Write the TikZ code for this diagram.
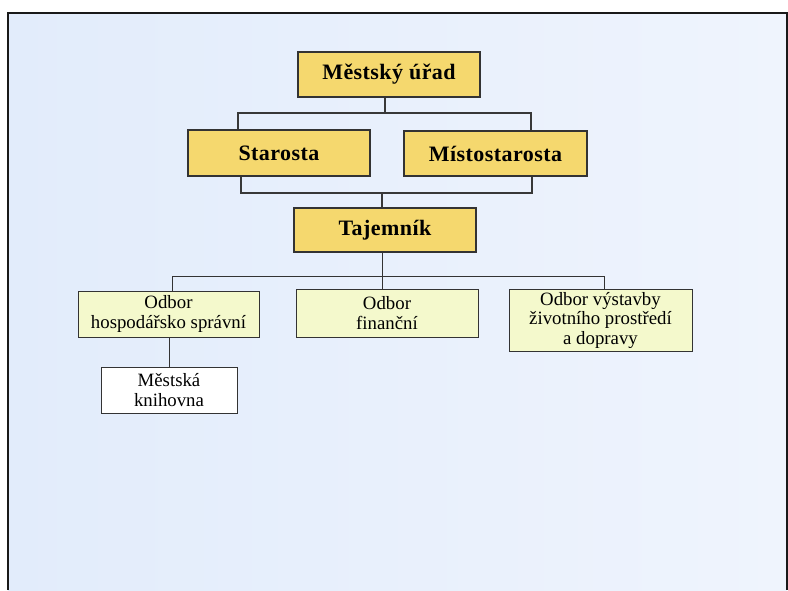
\documentclass[tikz,border=0pt]{standalone}
\usepackage{fontspec}
\setmainfont{Liberation Serif}
\begin{document}
\begin{tikzpicture}[x=1pt,y=-1pt,
  topbox/.style={draw=black!80,line width=1.1pt,fill=boxyellow,inner sep=0pt,align=center,font=\fontsize{22}{24}\selectfont\bfseries\addfontfeature{LetterSpace=2}},
  depbox/.style={draw=black!80,line width=1pt,fill=boxgreen,inner sep=0pt,align=center,font=\fontsize{18.8}{19.5}\selectfont},
  subbox/.style={depbox,fill=white},
  conn/.style={draw=black!78,line width=1.2pt},
  conn2/.style={draw=black!80,line width=1pt}]
\definecolor{boxyellow}{RGB}{245,216,110}
\definecolor{boxgreen}{RGB}{244,249,204}
\definecolor{bgleft}{RGB}{226,236,251}
\definecolor{bgright}{RGB}{239,244,253}
\useasboundingbox (0,0) rectangle (788,590);
\fill[white] (0,0) rectangle (788,590);
\shade[left color=bgleft,right color=bgright] (8,13) rectangle (787,590);
\draw[line width=2pt,black!90] (8,590) -- (8,13) -- (787,13) -- (787,590);

\node[topbox,minimum width=182pt,minimum height=45pt] (mu) at (389,74.5) {Městský úřad};
\node[topbox,minimum width=182pt,minimum height=46pt] (st) at (279,153) {Starosta};
\node[topbox,minimum width=183pt,minimum height=45pt] (ms) at (495.5,153.5) {Místostarosta};
\node[topbox,minimum width=182pt,minimum height=44pt] (tj) at (385,230) {Tajemník};

\node[depbox,minimum width=181pt,minimum height=46pt] (ho) at (168.5,314) {Odbor\\hospodářsko správní};
\node[depbox,minimum width=182pt,minimum height=48pt] (fi) at (387,313) {Odbor\\finanční};
\node[depbox,minimum width=183pt,minimum height=62pt] (vy) at (600.5,320) {Odbor výstavby\\životního prostředí\\a dopravy};
\node[subbox,minimum width=136pt,minimum height=46pt] (kn) at (169,390) {Městská\\knihovna};

\coordinate (c1) at (385,113);
\coordinate (j1) at (238,113);
\coordinate (j2) at (531,113);
\draw[conn] (c1 |- mu.south) -- (c1);
\draw[conn] (j1 |- st.north) -- (j1) -- (j2) -- (j2 |- ms.north);

\coordinate (k1) at (241,193);
\coordinate (k2) at (532,193);
\coordinate (c2) at (382,193);
\draw[conn] (k1 |- st.south) -- (k1) -- (k2) -- (k2 |- ms.south);
\draw[conn] (c2) -- (c2 |- tj.north);

\coordinate (m1) at (172,276);
\coordinate (m2) at (604,276);
\coordinate (c3) at (382,276);
\draw[conn2] (c3 |- tj.south) -- (c3 |- fi.north);
\draw[conn2] (m1 |- ho.north) -- (m1) -- (m2) -- (m2 |- vy.north);
\draw[conn2] (kn.north |- ho.south) -- (kn.north);
\end{tikzpicture}
\end{document}
